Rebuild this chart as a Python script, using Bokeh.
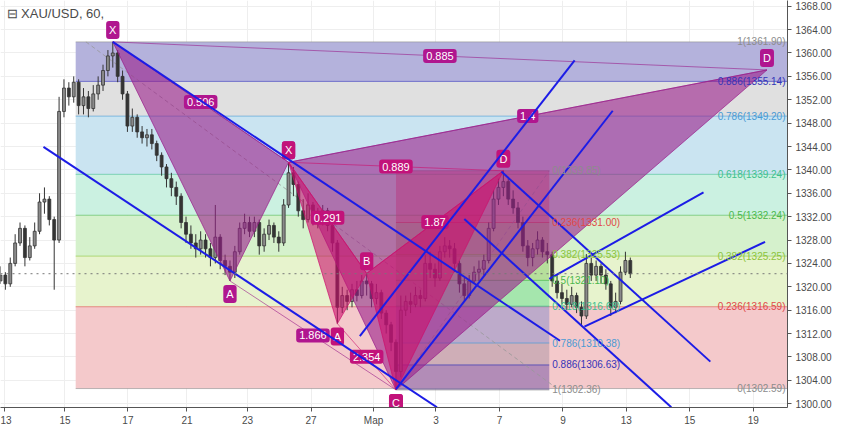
from bokeh.plotting import figure
from bokeh.models import ColumnDataSource, FixedTicker, Label, Span, Range1d, NumeralTickFormatter
from bokeh.core.properties import value
from bokeh.embed import file_html
from bokeh.resources import INLINE

FONT = "Liberation Sans"

# ---------------- price data (hourly bars, one per bar index) ----------------
first_open = 1321.0
closes = [1322.0, 1320.5, 1324.0, 1327.5, 1330.0, 1325.0, 1327.0, 1329.5, 1334.5, 1335.0,
          1331.5, 1328.0, 1350.0, 1354.0, 1352.5, 1355.0, 1351.0, 1352.5, 1350.5, 1353.0,
          1354.5, 1357.0, 1359.5, 1360.0, 1356.0, 1353.0, 1347.5, 1349.0, 1346.5, 1345.5,
          1346.0, 1344.5, 1342.5, 1340.5, 1338.5, 1337.0, 1335.5, 1331.0, 1329.0, 1327.5,
          1326.5, 1328.0, 1326.5, 1325.0, 1328.5, 1324.5, 1323.5, 1322.5, 1326.0, 1330.0,
          1331.0, 1329.5, 1331.0, 1327.0, 1329.0, 1330.5, 1328.5, 1327.5, 1334.0, 1339.5,
          1337.5, 1333.0, 1331.5, 1334.0, 1332.0, 1331.5, 1333.0, 1330.5, 1327.5, 1316.5,
          1318.5, 1317.5, 1319.5, 1318.5, 1321.0, 1320.5, 1318.0, 1319.0, 1315.5, 1313.5,
          1310.5, 1305.5, 1316.0, 1317.5, 1317.0, 1318.5, 1318.0, 1324.0, 1323.0, 1321.5,
          1326.0, 1327.0, 1326.5, 1324.0, 1320.5, 1318.5, 1321.0, 1322.5, 1323.0, 1324.5,
          1330.0, 1335.0, 1337.0, 1338.0, 1335.0, 1333.5, 1331.0, 1327.0, 1325.0, 1326.5,
          1328.0, 1326.0, 1325.5, 1321.0, 1319.0, 1318.0, 1317.0, 1318.5, 1316.5, 1315.0,
          1324.0, 1322.0, 1323.5, 1322.0, 1320.5, 1316.5, 1317.5, 1322.5, 1324.5, 1322.24]
highs = [1323.5, 1322.5, 1325.0, 1329.0, 1331.0, 1330.5, 1328.5, 1331.0, 1336.0, 1337.0,
         1335.5, 1332.0, 1352.5, 1355.5, 1355.0, 1356.0, 1355.5, 1354.0, 1353.5, 1354.5,
         1356.0, 1358.0, 1360.5, 1361.9, 1360.5, 1357.0, 1353.5, 1350.5, 1349.5, 1347.5,
         1347.0, 1347.0, 1345.0, 1343.0, 1341.0, 1339.5, 1338.0, 1336.0, 1332.0, 1330.5,
         1329.0, 1329.5, 1329.0, 1327.5, 1334.0, 1329.0, 1325.5, 1324.5, 1327.0, 1331.0,
         1332.5, 1332.0, 1332.0, 1331.5, 1330.0, 1331.5, 1331.0, 1329.5, 1335.0, 1341.3,
         1340.5, 1338.0, 1335.0, 1336.0, 1334.5, 1333.5, 1334.0, 1333.5, 1331.0, 1328.0,
         1320.0, 1319.5, 1320.5, 1321.0, 1322.0, 1322.3, 1321.0, 1320.5, 1319.5, 1316.0,
         1314.0, 1311.0, 1318.5, 1318.5, 1319.0, 1320.0, 1319.5, 1325.5, 1326.0, 1324.0,
         1327.0, 1328.5, 1328.0, 1327.5, 1324.5, 1321.5, 1322.0, 1323.5, 1324.5, 1325.5,
         1331.0, 1336.5, 1338.5, 1339.85, 1338.5, 1336.5, 1334.5, 1332.0, 1328.0, 1327.5,
         1329.5, 1328.5, 1327.5, 1326.0, 1322.0, 1320.5, 1319.5, 1320.0, 1319.0, 1317.5,
         1325.6, 1325.0, 1324.5, 1324.0, 1323.0, 1321.0, 1319.0, 1323.5, 1326.0, 1325.0]
lows = [1320.5, 1319.5, 1320.0, 1323.5, 1327.0, 1323.5, 1324.5, 1326.5, 1329.0, 1332.5,
        1330.5, 1319.5, 1327.5, 1349.0, 1351.0, 1351.5, 1349.5, 1349.5, 1349.0, 1350.0,
        1352.0, 1353.5, 1356.0, 1357.5, 1355.0, 1352.0, 1346.5, 1346.5, 1345.5, 1344.5,
        1344.0, 1343.5, 1341.5, 1339.0, 1337.0, 1335.5, 1334.0, 1330.0, 1327.5, 1326.5,
        1325.0, 1325.5, 1325.0, 1323.5, 1324.0, 1323.0, 1322.0, 1321.0, 1321.5, 1325.5,
        1329.0, 1328.5, 1328.5, 1325.5, 1326.0, 1328.0, 1327.5, 1326.0, 1327.0, 1333.5,
        1335.5, 1332.0, 1330.0, 1331.0, 1330.5, 1330.0, 1330.5, 1329.5, 1326.0, 1313.7,
        1315.5, 1316.0, 1316.5, 1317.5, 1318.0, 1318.5, 1316.5, 1317.0, 1314.5, 1312.0,
        1309.0, 1302.36, 1304.5, 1315.0, 1315.5, 1316.5, 1316.5, 1317.5, 1321.5, 1320.0,
        1321.0, 1325.0, 1325.0, 1322.5, 1319.0, 1317.5, 1318.0, 1320.5, 1321.0, 1322.0,
        1324.0, 1329.5, 1334.0, 1335.5, 1334.0, 1332.5, 1330.0, 1326.0, 1323.5, 1323.5,
        1325.5, 1325.0, 1324.0, 1320.0, 1318.0, 1317.0, 1316.0, 1316.5, 1315.5, 1313.2,
        1314.5, 1321.0, 1321.0, 1320.5, 1319.5, 1315.0, 1315.5, 1317.0, 1322.0, 1321.5]
last_price = 1322.24

# ---------------- axes ----------------
x_tick_pos = [0.8, 13.2, 26.1, 38.2, 50.6, 63.6, 76.4, 89.2, 102.2, 115.2, 128.2, 141.2, 154.2]
x_tick_labels = ["13", "15", "17", "21", "23", "27", "Мар", "3", "7", "9", "13", "15", "19"]
y_tick_vals = [1300, 1304, 1308, 1312, 1316, 1320, 1324, 1328, 1332, 1336,
               1340, 1344, 1348, 1352, 1356, 1360, 1364, 1368]
x_lo, x_hi = 0.0, 161.2
y_lo, y_hi = 1299.35, 1368.98

# ---------------- Fibonacci retracements ----------------
fib_levels = ["0", "0.236", "0.382", "0.5", "0.618", "0.786", "0.886", "1"]
big_fib_prices = [1302.59, 1316.59, 1325.25, 1332.24, 1339.24, 1349.20, 1355.14, 1361.90]
big_fib_start = 15.4
big_fib_trend_x = [17.5, 114.0]
big_fib_trend_y = [1361.90, 1302.59]

small_fib_prices = [1339.85, 1331.00, 1325.53, 1321.10, 1316.68, 1310.38, 1306.63, 1302.36]
small_fib_x = [81.0, 112.4]
small_fib_trend_y = [1302.36, 1339.85]

# ---------------- harmonic XABCD patterns ----------------
pat_names = ["X", "A", "B", "C", "D"]
pat1_x = [23, 47, 59, 81, 157]
pat1_y = [1361.90, 1321.00, 1341.30, 1302.36, 1357.10]
pat1_ratios = ["0.506", "1.866", "1.4", "0.885"]

pat2_x = [59, 69, 75, 81, 103]
pat2_y = [1341.30, 1313.70, 1322.30, 1302.36, 1339.85]
pat2_ratios = ["0.291", "2.354", "1.87", "0.889"]

# ---------------- blue trend lines (time, price) ----------------
trend_x0 = [8.8, 23.0, 102.6, 95.0, 73.6, 81.0, 112.4, 119.6]
trend_y0 = [1343.94, 1361.90, 1339.71, 1331.58, 1311.58, 1302.50, 1321.34, 1313.20]
trend_x1 = [89.4, 114.6, 145.4, 137.4, 117.6, 125.4, 144.0, 156.6]
trend_y1 = [1299.39, 1310.77, 1307.20, 1299.39, 1358.74, 1350.12, 1336.14, 1327.68]

# ---------------- styles ----------------
big_band_colors = ["#f4c9cb", "#e7f3cd", "#d5f1cc", "#cbf1e1", "#cae4f1", "#e0e0e0", "#b4b2dc"]
level_colors = ["#8c8c8c", "#e04848", "#8cc43c", "#4cb84c", "#3fbf8f", "#4a9ad4", "#3434b8", "#8c8c8c"]
small_band_colors = ["#e8405a", "#a08040", "#66c04a", "#3ad27a", "#7080c8", "#9a8a9a", "#6a4aa0"]
small_band_alpha = [0.42, 0.42, 0.38, 0.38, 0.42, 0.42, 0.48]
P1_FILL, P1_LABEL = "#9a1e8a", "#b0168f"
P2_FILL, P2_LABEL = "#cc0f6c", "#c2127a"
BLUE = "#1c1ce6"

p = figure(width=834, height=428, x_range=Range1d(x_lo, x_hi), y_range=Range1d(y_lo, y_hi),
           y_axis_location="right", toolbar_location=None, output_backend="svg",
           min_border_left=0, min_border_top=0, min_border_right=0, min_border_bottom=0)
p.outline_line_color = None
p.background_fill_color = "white"
p.border_fill_color = "white"
p.grid.grid_line_color = "#eeeeee"

# axes
p.xaxis.ticker = FixedTicker(ticks=x_tick_pos)
p.xaxis.major_label_overrides = {t: l for t, l in zip(x_tick_pos, x_tick_labels)}
p.yaxis.ticker = FixedTicker(ticks=y_tick_vals)
p.yaxis.formatter = NumeralTickFormatter(format="0.00")
for ax in (p.xaxis, p.yaxis):
    ax.major_label_text_font = FONT
    ax.major_label_text_font_size = "10px"
    ax.major_label_text_color = "#4a4a4a"
    ax.axis_line_color = "#555555"
    ax.major_tick_line_color = "#555555"
    ax.major_tick_in = 0
    ax.major_tick_out = 4
    ax.minor_tick_line_color = None
p.yaxis.major_label_standoff = 4
p.xaxis.major_label_standoff = 3

# big fib bands
p.quad(left=big_fib_start, right=x_hi, bottom=big_fib_prices[:-1], top=big_fib_prices[1:],
       fill_color=big_band_colors, line_color=None)
p.segment(x0=big_fib_start, x1=x_hi, y0=big_fib_prices, y1=big_fib_prices,
          line_color=level_colors, line_alpha=0.6, line_width=1)

# small fib bands
p.quad(left=small_fib_x[0], right=small_fib_x[1], top=small_fib_prices[:-1], bottom=small_fib_prices[1:],
       fill_color=small_band_colors, fill_alpha=small_band_alpha, line_color=None)
p.segment(x0=small_fib_x[0], x1=small_fib_x[1], y0=small_fib_prices, y1=small_fib_prices,
          line_color=level_colors, line_alpha=0.7, line_width=1)

# fib trend (dashed)
p.line(big_fib_trend_x, big_fib_trend_y, line_color="#999999", line_dash="4 3", line_width=1, line_alpha=0.8)
p.line(small_fib_x, small_fib_trend_y, line_color="#999999", line_dash="4 3", line_width=1, line_alpha=0.8)

# last price line
p.add_layout(Span(location=last_price, dimension="width", line_color="#777777",
                  line_dash="dotted", line_width=1))

# candles
opens = [first_open] + closes[:-1]
idx = list(range(len(closes)))
up = ["#8a8a8a" if c >= o else "#343434" for o, c in zip(opens, closes)]
cs = ColumnDataSource(dict(x=idx, o=opens, c=closes, h=highs, l=lows,
                           top=[max(o, c) for o, c in zip(opens, closes)],
                           bot=[min(o, c) for o, c in zip(opens, closes)], col=up))
p.segment(x0="x", x1="x", y0="l", y1="h", source=cs, line_color="#343434", line_width=1)
p.vbar(x="x", top="top", bottom="bot", width=0.6, source=cs, fill_color="col", line_color="#343434",
       line_width=0.8)

# harmonic patterns
pairs = [(0, 2), (1, 3), (2, 4), (0, 4)]


def draw_pattern(px, py, ratios, fill, lab_col):
    p.patches(xs=[[px[0], px[1], px[2]], [px[2], px[3], px[4]]],
              ys=[[py[0], py[1], py[2]], [py[2], py[3], py[4]]],
              fill_color=fill, fill_alpha=0.6, line_color=fill, line_alpha=0.7, line_width=1)
    p.segment(x0=[px[a] for a, b in pairs], y0=[py[a] for a, b in pairs],
              x1=[px[b] for a, b in pairs], y1=[py[b] for a, b in pairs],
              line_color=fill, line_alpha=0.6, line_width=1)
    mids = ColumnDataSource(dict(x=[(px[a] + px[b]) / 2 for a, b in pairs],
                                 y=[(py[a] + py[b]) / 2 for a, b in pairs], t=ratios))
    p.text(x="x", y="y", text="t", source=mids, text_font=value(FONT), text_font_size="11px",
           text_color="white", text_align="center", text_baseline="middle",
           background_fill_color=lab_col, padding=3, border_radius=3)
    offs = [-12, 13, -12, 13, -12]
    pts = ColumnDataSource(dict(x=px, y=py, t=pat_names, off=offs))
    p.text(x="x", y="y", text="t", source=pts, y_offset="off", text_font=value(FONT),
           text_font_size="11px", text_color="white", text_align="center", text_baseline="middle",
           background_fill_color=lab_col, padding=3, border_radius=3)


draw_pattern(pat1_x, pat1_y, pat1_ratios, P1_FILL, P1_LABEL)
draw_pattern(pat2_x, pat2_y, pat2_ratios, P2_FILL, P2_LABEL)

# blue trend lines
p.segment(x0=trend_x0, y0=trend_y0, x1=trend_x1, y1=trend_y1, line_color=BLUE, line_width=2)

# fib labels
p.text(x=x_hi, y=big_fib_prices, text=[f"{l}({v:.2f})" for l, v in zip(fib_levels, big_fib_prices)],
       x_offset=-2, text_align="right", text_baseline="middle", text_color=level_colors,
       text_font=value(FONT), text_font_size="10px")
p.text(x=small_fib_x[1], y=small_fib_prices,
       text=[f"{l}({v:.2f})" for l, v in zip(fib_levels, small_fib_prices)],
       x_offset=3, text_align="left", text_baseline="middle", text_color=level_colors,
       text_font=value(FONT), text_font_size="10px")

# title
p.add_layout(Label(x=x_lo, y=y_hi, x_offset=6, y_offset=-5, text="⊟ XAU/USD, 60,",
                   text_baseline="top", text_font=FONT, text_font_size="13px", text_color="#4a4a4a"))

# last price tag on the axis
p.add_layout(Label(x=x_hi, y=last_price, x_offset=1, text=f"{last_price:.2f}", text_align="left",
                   text_baseline="middle", text_font=FONT, text_font_size="10px", text_color="white",
                   background_fill_color="black", padding=2))

open("out.html", "w").write(file_html(p, INLINE))
